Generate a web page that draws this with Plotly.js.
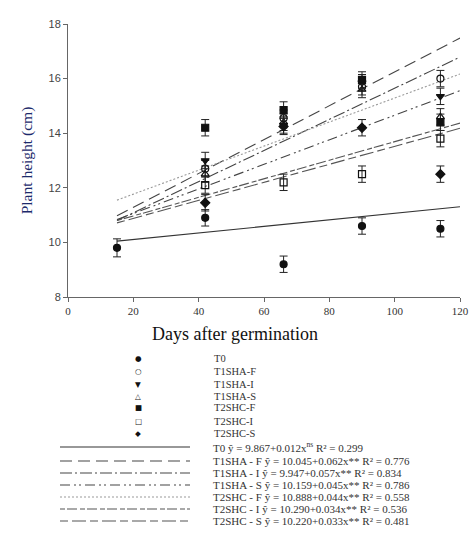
<!DOCTYPE html>
<html>
<head>
<meta charset="utf-8">
<script src="https://cdn.plot.ly/plotly-3.0.1.min.js"></script>
<style>html,body{margin:0;padding:0;background:#fff;}#chart{width:470px;height:534px;}</style>
</head>
<body>
<div id="chart"></div>
<script>
// ---- data ----
const daysT0 = [15, 42, 66, 90, 114];
const days = [42, 66, 90, 114];
const T0 = [9.8, 10.9, 9.2, 10.6, 10.5];
const T0_err = [0.33, 0.3, 0.3, 0.3, 0.3];
const T1SHA_F = [12.7, 14.55, 15.7, 16.0];
const T1SHA_I = [13.0, 14.3, 15.85, 15.35];
const T1SHA_S = [12.5, 14.4, 15.6, 14.6];
const T2SHC_F = [14.2, 14.85, 15.95, 14.4];
const T2SHC_I = [12.1, 12.2, 12.5, 13.8];
const T2SHC_S = [11.45, 14.25, 14.2, 12.5];
const errBars = [0.3, 0.3, 0.3, 0.3];

const seriesNames = ['T0', 'T1SHA-F', 'T1SHA-I', 'T1SHA-S', 'T2SHC-F', 'T2SHC-I', 'T2SHC-S'];
const intercepts = [9.867, 10.045, 9.947, 10.159, 10.888, 10.290, 10.220];
const slopes = [0.012, 0.062, 0.057, 0.045, 0.044, 0.034, 0.033];
const fitX = [15, 120];
const eqLabels = [
  'T0 ŷ = 9.867+0.012x<sup>ns</sup> R² = 0.299',
  'T1SHA - F ŷ = 10.045+0.062x** R² = 0.776',
  'T1SHA - I ŷ = 9.947+0.057x** R² = 0.834',
  'T1SHA - S ŷ = 10.159+0.045x** R² = 0.786',
  'T2SHC - F ŷ = 10.888+0.044x** R² = 0.558',
  'T2SHC - I ŷ = 10.290+0.034x** R² = 0.536',
  'T2SHC - S ŷ = 10.220+0.033x** R² = 0.481'
];
const xTicks = [0, 20, 40, 60, 80, 100, 120];
const yTicks = [8, 10, 12, 14, 16, 18];

// ---- styles ----
const symbols = ['circle', 'circle-open', 'triangle-down', 'triangle-up-open', 'square', 'square-open', 'diamond'];
const glyphs = ['●', '○', '▼', '△', '■', '□', '◆'];
const dashes = ['solid', '12px,6px', '12px,3px,2px,3px', '10px,4px,2px,3px,2px,4px', '2px,2px', '5px,2px,10px,3px', '8px,4px,14px,4px'];
const lineColors = ['#333', '#444', '#444', '#444', '#9a9a9a', '#555', '#555'];

const pointSets = [
  {x: daysT0, y: T0, e: T0_err},
  {x: days, y: T1SHA_F, e: errBars},
  {x: days, y: T1SHA_I, e: errBars},
  {x: days, y: T1SHA_S, e: errBars},
  {x: days, y: T2SHC_F, e: errBars},
  {x: days, y: T2SHC_I, e: errBars},
  {x: days, y: T2SHC_S, e: errBars}
];

const traces = [];
seriesNames.forEach((n, i) => {
  traces.push({
    type: 'scatter', mode: 'lines', name: n + ' fit', showlegend: false,
    x: fitX, y: fitX.map(v => intercepts[i] + slopes[i] * v),
    line: {color: lineColors[i], width: 1.1, dash: dashes[i]}, hoverinfo: 'skip'
  });
});
seriesNames.forEach((n, i) => {
  const s = pointSets[i];
  traces.push({
    type: 'scatter', mode: 'markers', name: n, showlegend: false,
    x: s.x, y: s.y,
    error_y: {type: 'data', array: s.e, visible: true, color: '#222', thickness: 1, width: 4},
    marker: {symbol: symbols[i], size: 7, color: '#111', line: {color: '#111', width: 1.2}}
  });
});

// ---- layout helpers (pixel -> paper) ----
const L = 68, T = 24, PW = 392, PH = 273;
const px = v => (v - L) / PW;
const py = v => (T + PH - v) / PH;

const annotations = [];
const shapes = [];
const serif = 'Liberation Serif, Times New Roman, serif';
const labelFont = {family: serif, size: 10.5, color: '#333'};
const eqFont = {family: serif, size: 11, color: '#333'};
const markerRowY = [358, 371, 384, 396, 408, 421, 433];
const lineRowY = [447, 461, 473, 485, 497, 509, 521];
seriesNames.forEach((n, i) => {
  annotations.push({xref: 'paper', yref: 'paper', x: px(138), y: py(markerRowY[i]), text: glyphs[i],
    showarrow: false, xanchor: 'center', yanchor: 'middle',
    font: {family: 'DejaVu Sans', size: 7.5, color: '#111'}});
  annotations.push({xref: 'paper', yref: 'paper', x: px(212), y: py(markerRowY[i]), text: n,
    showarrow: false, xanchor: 'left', yanchor: 'middle', font: labelFont});
  shapes.push({type: 'line', xref: 'paper', yref: 'paper', x0: px(60), x1: px(190),
    y0: py(lineRowY[i]), y1: py(lineRowY[i]),
    line: {color: lineColors[i], width: 1.1, dash: dashes[i]}});
  annotations.push({xref: 'paper', yref: 'paper', x: px(211), y: py(lineRowY[i]), text: eqLabels[i],
    showarrow: false, xanchor: 'left', yanchor: 'middle', font: eqFont});
});
annotations.push({xref: 'paper', yref: 'paper', x: px(235), y: py(334), text: 'Days after germination',
  showarrow: false, xanchor: 'center', yanchor: 'middle',
  font: {family: serif, size: 18, color: '#111'}});

const layout = {
  width: 470, height: 534,
  margin: {l: L, r: 470 - L - PW, t: T, b: 534 - T - PH},
  paper_bgcolor: '#fff', plot_bgcolor: '#fff',
  showlegend: false,
  xaxis: {
    range: [0, 120], tickvals: xTicks, ticktext: xTicks.map(String),
    showgrid: false, zeroline: false, showline: true, linecolor: '#666', linewidth: 1,
    ticks: 'outside', ticklen: 4, tickcolor: '#666',
    tickfont: {family: serif, size: 11, color: '#333'}
  },
  yaxis: {
    range: [8, 18], tickvals: yTicks, ticktext: yTicks.map(String),
    showgrid: false, zeroline: false, showline: true, linecolor: '#666', linewidth: 1,
    ticks: 'outside', ticklen: 4, tickcolor: '#666',
    tickfont: {family: 'Liberation Sans, Arial, sans-serif', size: 11, color: '#444'},
    title: {text: 'Plant height (cm)', standoff: 12,
      font: {family: serif, size: 15.5, color: '#1c2a6b'}}
  },
  annotations: annotations,
  shapes: shapes
};

Plotly.newPlot('chart', traces, layout, {displayModeBar: false, staticPlot: true});
</script>
</body>
</html>
